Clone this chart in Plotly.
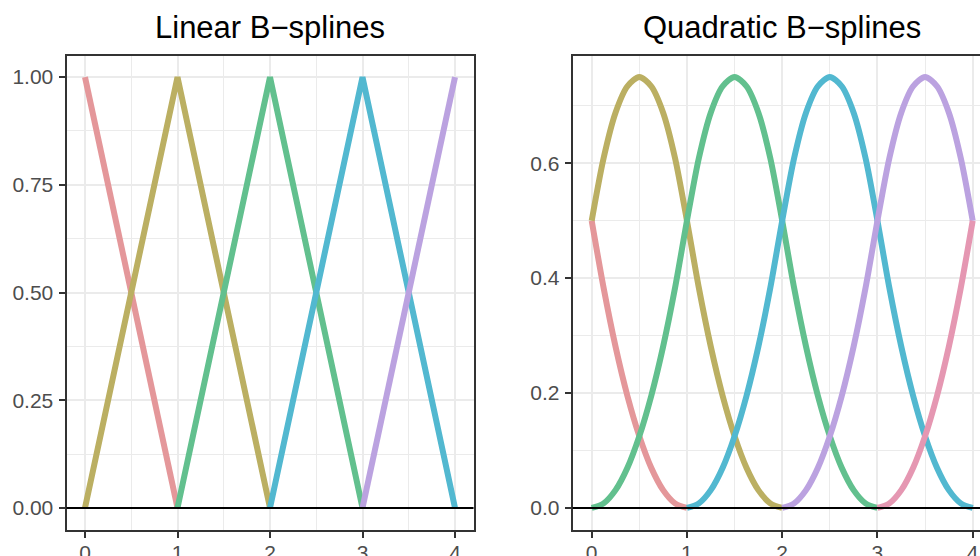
import plotly.graph_objects as go

# ---------------- data ----------------
lin_x = [0, 1, 2, 3, 4]
lin_b1 = [1.0, 0.0, None, None, None]
lin_b2 = [0.0, 1.0, 0.0, None, None]
lin_b3 = [None, 0.0, 1.0, 0.0, None]
lin_b4 = [None, None, 0.0, 1.0, 0.0]
lin_b5 = [None, None, None, 0.0, 1.0]

quad_x = [0, 0.125, 0.25, 0.375, 0.5, 0.625, 0.75, 0.875,
          1, 1.125, 1.25, 1.375, 1.5, 1.625, 1.75, 1.875,
          2, 2.125, 2.25, 2.375, 2.5, 2.625, 2.75, 2.875,
          3, 3.125, 3.25, 3.375, 3.5, 3.625, 3.75, 3.875, 4]
quad_b1 = [0.5, 0.383, 0.281, 0.195, 0.125, 0.07, 0.031, 0.008, 0.0] + [None] * 24
quad_b2 = [0.5, 0.609, 0.688, 0.734, 0.75, 0.734, 0.688, 0.609,
           0.5, 0.383, 0.281, 0.195, 0.125, 0.07, 0.031, 0.008, 0.0] + [None] * 16
quad_b3 = [0.0, 0.008, 0.031, 0.07, 0.125, 0.195, 0.281, 0.383,
           0.5, 0.609, 0.688, 0.734, 0.75, 0.734, 0.688, 0.609,
           0.5, 0.383, 0.281, 0.195, 0.125, 0.07, 0.031, 0.008, 0.0] + [None] * 8
quad_b4 = [None] * 8 + [0.0, 0.008, 0.031, 0.07, 0.125, 0.195, 0.281, 0.383,
                        0.5, 0.609, 0.688, 0.734, 0.75, 0.734, 0.688, 0.609,
                        0.5, 0.383, 0.281, 0.195, 0.125, 0.07, 0.031, 0.008, 0.0]
quad_b5 = [None] * 16 + [0.0, 0.008, 0.031, 0.07, 0.125, 0.195, 0.281, 0.383,
                         0.5, 0.609, 0.688, 0.734, 0.75, 0.734, 0.688, 0.609, 0.5]
quad_b6 = [None] * 24 + [0.0, 0.008, 0.031, 0.07, 0.125, 0.195, 0.281, 0.383, 0.5]

lin_series = [lin_b1, lin_b2, lin_b3, lin_b4, lin_b5]
quad_series = [quad_b1, quad_b2, quad_b3, quad_b4, quad_b5, quad_b6]

colors = ["#E4979A", "#BBAF62", "#62C08E", "#52B8D0", "#BBA2E0", "#E597B2"]

titles = ["Linear B\u2212splines", "Quadratic B\u2212splines"]
lin_yticks = [0, 0.25, 0.5, 0.75, 1.0]
quad_yticks = [0, 0.2, 0.4, 0.6]

# ---------------- figure ----------------
W, H = 980, 556
FONT = "Liberation Sans, Arial, Helvetica, sans-serif"
fig = go.Figure()

for ys, c in zip(lin_series, colors):
    fig.add_trace(go.Scatter(x=lin_x, y=ys, mode="lines", xaxis="x", yaxis="y",
                             line=dict(color=c, width=6), connectgaps=False,
                             showlegend=False, hoverinfo="skip"))
for ys, c in zip(quad_series, colors):
    fig.add_trace(go.Scatter(x=quad_x, y=ys, mode="lines", xaxis="x2", yaxis="y2",
                             line=dict(color=c, width=6, shape="spline", smoothing=0.8),
                             connectgaps=False, showlegend=False, hoverinfo="skip"))

grid = "#EBEBEB"
border = "#333333"
tickfont = dict(family=FONT, size=21, color="#4D4D4D")

top_px, bot_px = 55.5, 529.5
ydom = [1 - bot_px / H, 1 - top_px / H]

common_x = dict(showgrid=True, gridcolor=grid, gridwidth=2, zeroline=False, automargin=False,
                showline=True, linecolor=border, linewidth=2, mirror=True,
                ticks="outside", ticklen=6, tickwidth=2, tickcolor=border,
                tickfont=tickfont, tick0=0, dtick=1, ticklabelstandoff=-3,
                minor=dict(dtick=0.5, tick0=0, showgrid=True, gridcolor=grid, gridwidth=1))
common_y = dict(showgrid=True, gridcolor=grid, gridwidth=2, zeroline=False, automargin=False,
                showline=True, linecolor=border, linewidth=2,
                ticks="outside", ticklen=6, tickwidth=2, tickcolor=border,
                tickfont=tickfont, ticklabelstandoff=1)

fig.update_layout(
    template="none",
    width=W, height=H,
    margin=dict(l=0, r=0, t=0, b=0, autoexpand=False),
    paper_bgcolor="white", plot_bgcolor="white",
    hovermode=False,
    xaxis=dict(common_x, domain=[66.5 / W, 473.5 / W], range=[-0.2, 4.2], anchor="y"),
    yaxis=dict(common_y, domain=ydom, range=[-0.05, 1.05], anchor="x", mirror=True,
               tickvals=lin_yticks, tickformat=".2f",
               minor=dict(tickvals=[0.125, 0.375, 0.625, 0.875], showgrid=True, gridcolor=grid, gridwidth=1)),
    xaxis2=dict(common_x, domain=[572.65 / W, 1.0], range=[-0.2, (W - 591.7) / 95.25], anchor="y2"),
    yaxis2=dict(common_y, domain=ydom, range=[-0.0375, 0.7875], anchor="x2", mirror=False,
                tickvals=quad_yticks, tickformat=".1f",
                minor=dict(tickvals=[0.1, 0.3, 0.5, 0.7], showgrid=True, gridcolor=grid, gridwidth=1)),
)

# horizontal reference line at zero
for xr, yr in [("x domain", "y"), ("x2 domain", "y2")]:
    fig.add_shape(type="line", xref=xr, yref=yr, x0=0, x1=1, y0=0, y1=0,
                  line=dict(color="black", width=2), layer="above")

# panel titles
for txt, cx in zip(titles, [270.0, 781.7]):
    fig.add_annotation(text=txt, xref="paper", yref="paper", x=cx / W, y=1 - 27.7 / H,
                       xanchor="center", yanchor="middle", showarrow=False,
                       font=dict(family=FONT, size=31, color="black"))

# remove the browser's default 8px page margin so the figure sits at the window's top-left corner
fig.write_html("out.html", config={"displayModeBar": False, "staticPlot": True},
               post_script="document.body.style.margin='0px';document.body.style.overflow='hidden';")
